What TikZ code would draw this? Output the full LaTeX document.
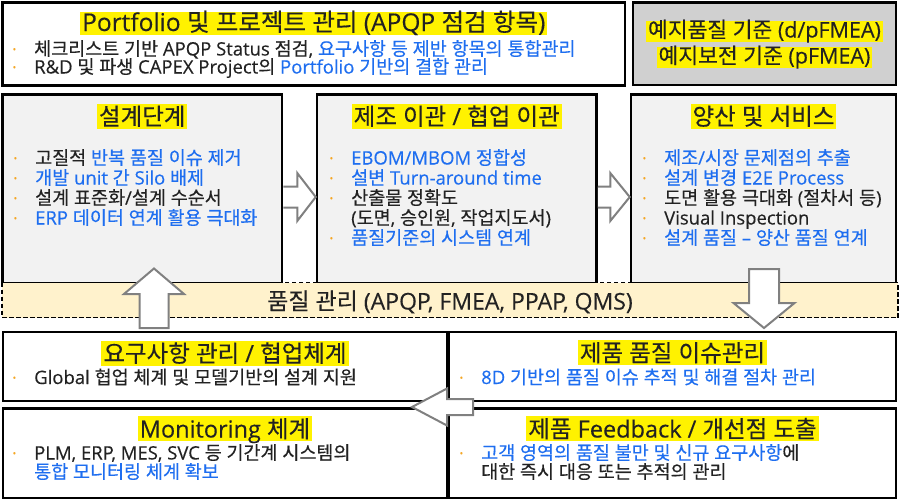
\documentclass[tikz,border=0pt]{standalone}
\usepackage{fontspec}
\setmainfont{Open Sans}[FakeBold=0.25]
\newfontfamily\hgfont[FakeBold=0.3]{Noto Sans CJK KR}
\usetikzlibrary{positioning}

% Hangul syllables are set in the CJK font, the rest in Open Sans
\XeTeXinterchartokenstate=1
\newXeTeXintercharclass\hgclass
\newcount\hgcode
\hgcode="AC00
\loop
  \XeTeXcharclass\hgcode=\hgclass
  \advance\hgcode by 1
\ifnum\hgcode<"D7A4 \repeat
\XeTeXinterchartoks 0 \hgclass={\hgfont}
\XeTeXinterchartoks 4095 \hgclass={\hgfont}
\XeTeXinterchartoks \hgclass 0={\normalfont}
\XeTeXinterchartoks \hgclass 4095={\normalfont}

\definecolor{boxgray}{RGB}{242,242,242}
\definecolor{stdgray}{RGB}{208,208,208}
\definecolor{bandbeige}{RGB}{255,242,204}
\definecolor{qblue}{RGB}{30,110,240}
\definecolor{textblack}{RGB}{34,34,34}
\definecolor{dotorange}{RGB}{245,166,35}
\definecolor{arrowgray}{RGB}{128,128,128}

\newcommand\bl[1]{\textcolor{qblue}{#1}}
\newcommand\bitem{\makebox[21.5pt][l]{\raisebox{3pt}{\fontsize{9}{9}\selectfont\color{dotorange}•}}}
% fixed line pitch, first baseline on the node's base anchor
\newcommand\blines[1]{\begin{minipage}[t]{640pt}\lineskiplimit=-\maxdimen\parindent=0pt\raggedright #1\end{minipage}}

\begin{document}
\begin{tikzpicture}[x=1pt, y=-1pt, text=textblack,
    box/.style={draw=black, line width=2.5pt, inner sep=0pt},
    title/.style={fill=yellow, inner xsep=2pt, inner ysep=0pt, text height=21.5pt, text depth=3.5pt,
        anchor=base, font=\fontsize{23.5}{26}\selectfont},
    blist/.style={inner sep=0pt, anchor=base west, font=\fontsize{18.5}{20}\selectfont},
    blockarr/.style={draw=arrowgray, fill=white, line width=2pt, line join=miter}
]
    \useasboundingbox (0,0) rectangle (900,501);

    % Boxes
    \node[box, fill=white, minimum width=622.5pt, minimum height=83pt] (portfolio) at (313.75,44) {};
    \node[box, fill=stdgray, minimum width=263pt, minimum height=82.5pt] (forecast) at (764.5,43.75) {};
    \node[box, fill=boxgray, minimum width=279.5pt, minimum height=188.5pt] (design) at (142.25,188.75) {};
    \node[box, fill=boxgray, minimum width=279.5pt, minimum height=188.5pt] (transfer) at (456.75,188.75) {};
    \node[box, fill=boxgray, minimum width=265pt, minimum height=188.5pt] (massprod) at (763.5,188.75) {};
    \node[box, fill=white, minimum width=444pt, minimum height=69pt] (req) at (225,366.5) {};
    \node[box, fill=white, minimum width=447pt, minimum height=69pt] (issue) at (672.5,366.5) {};
    \node[box, fill=white, minimum width=444pt, minimum height=89.5pt] (monitor) at (225,453.25) {};
    \node[box, fill=white, minimum width=447pt, minimum height=89.5pt] (feedback) at (672.5,453.25) {};

    % Quality band
    \node[draw=black, fill=bandbeige, line width=1.6pt, dash pattern=on 4.5pt off 2.5pt,
        minimum width=896pt, minimum height=35pt, inner sep=0pt] (band) at (450,300) {};
    \node[font=\fontsize{23}{25}\selectfont, anchor=base] (bandlabel) at (450,309.5)
        {품질 관리 (APQP, FMEA, PPAP, QMS)};

    % Titles
    \node[title, font=\fontsize{24.5}{27}\selectfont, text height=19.5pt, text depth=4pt] (portfoliotitle)
        at (313.75,31) {Portfolio 및 프로젝트 관리 (APQP 점검 항목)};
    \node[title, font=\fontsize{21.5}{24}\selectfont, text height=16.5pt, text depth=4.5pt] (forecast1)
        at (764.5,37.5) {예지품질 기준 (d/pFMEA)};
    \node[title, font=\fontsize{21.5}{24}\selectfont, text height=16.5pt, text depth=4.5pt] (forecast2)
        at (764.5,63.5) {예지보전 기준 (pFMEA)};
    \node[title] (designtitle) at (142.25,125) {설계단계};
    \node[title] (transfertitle) at (456.75,125) {제조 이관 / 협업 이관};
    \node[title] (massprodtitle) at (763.5,125) {양산 및 서비스};
    \node[title] (reqtitle) at (225,362) {요구사항 관리 / 협업체계};
    \node[title] (issuetitle) at (672.5,361.5) {제품 품질 이슈관리};
    \node[title] (monitortitle) at (225,437.5) {Monitoring 체계};
    \node[title] (feedbacktitle) at (672.5,437.5) {제품 Feedback / 개선점 도출};

    % Bullet lists
    \node[blist, font=\fontsize{18.5}{18}\selectfont] (portfoliolist) at (12.5,55.5) {\blines{%
        \bitem 체크리스트 기반 APQP Status 점검, \bl{요구사항 등 제반 항목의 통합관리}\\
        \bitem R\&D 및 파생 CAPEX Project의 \bl{Portfolio 기반의 결합 관리}}};
    \node[blist] (designlist) at (13.5,164.5) {\blines{%
        \bitem 고질적 \bl{반복 품질 이슈 제거}\\
        \bitem \bl{개발 unit 간 Silo 배제}\\
        \bitem 설계 표준화/설계 수순서\\
        \bitem \bl{ERP 데이터 연계 활용 극대화}}};
    \node[blist] (transferlist) at (329.5,164.5) {\blines{%
        \bitem \bl{EBOM/MBOM 정합성}\\
        \bitem \bl{설변 Turn-around time}\\
        \bitem 산출물 정확도\\
        \hspace*{21.5pt}(도면, 승인원, 작업지도서)\\
        \bitem \bl{품질기준의 시스템 연계}}};
    \node[blist] (massprodlist) at (642.5,164.5) {\blines{%
        \bitem \bl{제조/시장 문제점의 추출}\\
        \bitem \bl{설계 변경 E2E Process}\\
        \bitem 도면 활용 극대화 (절차서 등)\\
        \bitem Visual Inspection\\
        \bitem \bl{설계 품질 – 양산 품질 연계}}};
    \node[blist] (reqlist) at (12.5,384) {\blines{%
        \bitem Global 협업 체계 및 모델기반의 설계 지원}};
    \node[blist] (issuelist) at (459.5,384) {\blines{%
        \bitem \bl{8D 기반의 품질 이슈 추적 및 해결 절차 관리}}};
    \node[blist, font=\fontsize{18.5}{19}\selectfont] (monitorlist) at (12.5,459.5) {\blines{%
        \bitem PLM, ERP, MES, SVC 등 기간계 시스템의\\
        \hspace*{21.5pt}\bl{통합 모니터링 체계 확보}}};
    \node[blist, font=\fontsize{18.5}{19}\selectfont] (feedbacklist) at (459.5,459.5) {\blines{%
        \bitem \bl{고객 영역의 품질 불만 및 신규 요구사항}에\\
        \hspace*{21.5pt}대한 즉시 대응 또는 추적의 관리}};

    % Block arrows
    \draw[blockarr] (design.east |- 0,207.5) -- ++(14,0) -- ++(0,13.5) -- (transfer.west |- 0,197)
        -- ++(-18.5,-24) -- ++(0,13.5) -- (design.east |- 0,186.5);
    \draw[blockarr] (transfer.east |- 0,207.5) -- ++(12.5,0) -- ++(0,13.5) -- (massprod.west |- 0,197)
        -- ++(-19.5,-24) -- ++(0,13.5) -- (transfer.east |- 0,186.5);

    \coordinate (upfoot) at (154,328);
    \coordinate (downtop) at (764,269);
    \coordinate (leftend) at (473,407);
    \draw[blockarr] (upfoot) ++(-14.5,0) -- ++(0,-34) -- ++(-15.5,0) -- ++(30,-25.5) -- ++(30,25.5)
        -- ++(-15.5,0) -- ++(0,34) -- cycle;
    \draw[blockarr] (downtop) ++(-15,0) -- ++(0,34) -- ++(-15.5,0) -- ++(30.5,25) -- ++(30.5,-25)
        -- ++(-15.5,0) -- ++(0,-34) -- cycle;
    \draw[blockarr] (leftend) ++(0,-8) -- ++(-26,0) -- ++(0,-10.5) -- ++(-35,18.5) -- ++(35,18.5)
        -- ++(0,-10.5) -- ++(26,0) -- cycle;
\end{tikzpicture}
\end{document}
